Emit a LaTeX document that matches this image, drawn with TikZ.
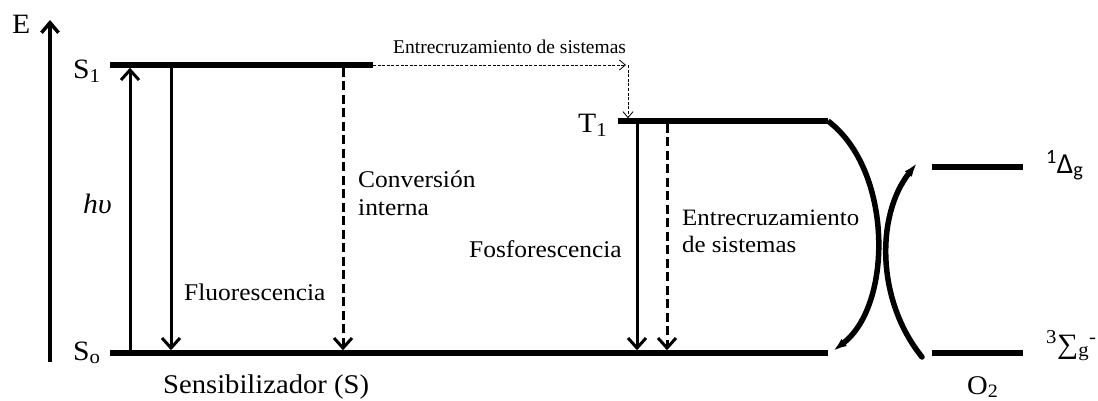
\documentclass[tikz,border=0pt]{standalone}
\usepackage{fontspec}
\setmainfont{Liberation Serif}[FakeStretch=1.06]
\newfontfamily\plainserif{Liberation Serif}
\newfontfamily\calib{Carlito}
\usetikzlibrary{arrows.meta}
\begin{document}
\begin{tikzpicture}[x=1pt,y=-1pt,
  lev/.style={line width=5.5pt},
  tr/.style={line width=3pt,shorten >=2.75pt,shorten <=2.75pt,-{Straight Barb[length=10pt,width=18pt]}},
  trd/.style={tr,dash pattern=on 9pt off 4.5pt},
  isc/.style={line width=0.8pt,dash pattern=on 3pt off 1.6pt,-{Straight Barb[length=6pt,width=10pt,line width=0.8pt]}},
  curv/.style={line width=5.5pt,-{Latex[length=14pt,width=9pt]}},
  lbl/.style={inner sep=0pt,anchor=base west,font=\fontsize{24}{29}\selectfont},
  sym/.style={lbl,font=\fontsize{28}{33}\selectfont},
  sml/.style={lbl,font=\plainserif\fontsize{19.5}{23}\selectfont},
  big/.style={lbl,font=\fontsize{27}{32}\selectfont}]
\useasboundingbox (0,0) rectangle (1098,400);
% energy levels
\coordinate (s1l) at (110,65);  \coordinate (s1r) at (373,65);
\coordinate (s0l) at (110,353); \coordinate (s0r) at (828,353);
\coordinate (t1l) at (618,121); \coordinate (t1r) at (828,121);
\coordinate (dl) at (932,167);  \coordinate (dr) at (1023,167);
\coordinate (gl) at (932,353);  \coordinate (gr) at (1023,353);
\draw[lev] (s1l) -- (s1r);
\draw[lev] (s0l) -- (s0r);
\draw[lev] (t1l) -- (t1r);
\draw[lev] (dl) -- (dr);
\draw[lev] (gl) -- (gr);
% energy axis
\coordinate (eb) at (50,362); \coordinate (et) at (50,20);
\draw[line width=3.5pt,-{Straight Barb[length=10pt,width=17pt]}] (eb) -- (et);
% transitions
\coordinate (xa) at (130,0); \coordinate (xf) at (171,0); \coordinate (xc) at (343,0);
\coordinate (xp) at (637,0); \coordinate (xi) at (667,0);
\draw[tr] (xa |- s0l) -- (xa |- s1l);
\draw[tr] (xf |- s1l) -- (xf |- s0l);
\draw[trd] (xc |- s1l) -- (xc |- s0l);
\draw[tr] (xp |- t1l) -- (xp |- s0l);
\draw[trd] (xi |- t1l) -- (xi |- s0l);
% intersystem crossing (thin dashed)
\coordinate (ch) at (626,65); \coordinate (cv) at (628,65); \coordinate (ct) at (628,118.25);
\draw[isc] (s1r) -- (ch);
\draw[isc] (cv) -- (ct);
% energy transfer curves
\coordinate (c1e) at (833,351);
\coordinate (c2s) at (922,357); \coordinate (c2e) at (917,163);
\draw[curv] (t1r) .. controls (893,170) and (893,305) .. (c1e);
\draw[curv,line cap=round] (c2s) .. controls (876,300) and (876,215) .. (c2e);
% labels
\node[sym] (E) at (12,33) {E};
\node[sym] (S1) at (73,78) {S\textsubscript{1}};
\node[sym] (S0) at (73,360) {S\textsubscript{o}};
\node[sym] (T1) at (578,132) {T\textsubscript{1}};
\node[sym] (hv) at (83,213) {\itshape hυ};
\node[lbl] (fl) at (184,300) {Fluorescencia};
\node[lbl] (ci1) at (358,187) {Conversión};
\node[lbl] (ci2) at (358,215) {interna};
\node[lbl] (fo) at (469,257) {Fosforescencia};
\node[lbl,font=\fontsize{23.5}{28}\selectfont] (es1) at (682,225) {Entrecruzamiento};
\node[lbl,font=\fontsize{23.5}{28}\selectfont] (es2) at (682,252) {de sistemas};
\node[sml] (top) at (393,53) {Entrecruzamiento de sistemas};
\node[big] (sens) at (163,393) {Sensibilizador (S)};
\node[big] (o2) at (967,394) {O\textsubscript{2}};
\node[lbl,font=\calib\fontsize{29}{34}\selectfont] (delta) at (1046,173) {\textsuperscript{1}Δ\textsubscript{g}};
\node[sym] (sigma) at (1046,353) {\textsuperscript{3}∑\textsubscript{g}\textsuperscript{-}};
\end{tikzpicture}
\end{document}
